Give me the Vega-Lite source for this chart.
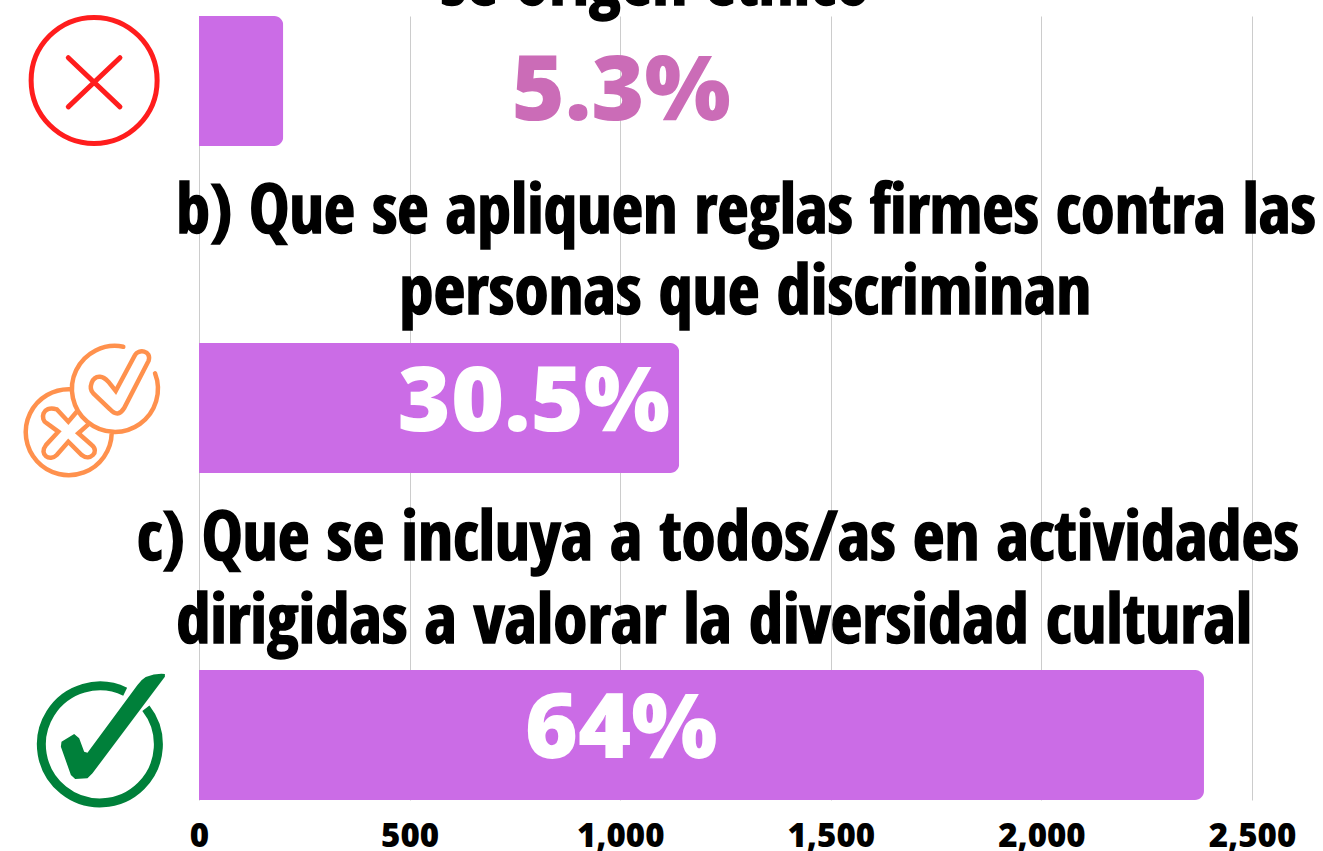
{"$schema":"https://vega.github.io/schema/vega-lite/v6.json","width":1053,"height":784,"autosize":{"type":"none"},"padding":{"left":199,"top":16,"right":71,"bottom":51},"background":"#ffffff","config":{"view":{"stroke":null}},
"datasets":{"opciones":[{"opcion":"a","total":200,"pct":"5.3%"},{"opcion":"b","total":1140,"pct":"30.5%"},{"opcion":"c","total":2386,"pct":"64%"}],
"lineas":[{"opcion":"a","linea":"a","texto":"se origen étnico"},{"opcion":"b","linea":"b1","texto":"b) Que se apliquen reglas firmes contra las"},{"opcion":"b","linea":"b2","texto":"personas que discriminan"},{"opcion":"c","linea":"c1","texto":"c) Que se incluya a todos/as en actividades"},{"opcion":"c","linea":"c2","texto":"dirigidas a valorar la diversidad cultural"}]},
"data":{"name":"opciones"},
"encoding":{"y":{"field":"opcion","type":"nominal","axis":null,"scale":{"domain":["a","b","c"],"paddingInner":0.6024,"paddingOuter":0}}},
"layer":[
{"mark":{"type":"bar","color":"#CB6CE6","cornerRadiusEnd":9},"encoding":{"x":{"field":"total","type":"quantitative","scale":{"domain":[0,2500],"nice":false},"axis":{"title":null,"values":[0,500,1000,1500,2000,2500],"format":",.0f","grid":true,"gridColor":"#cccccc","gridWidth":1,"domain":false,"ticks":false,"labelFont":"Open Sans","labelFontWeight":800,"labelFontSize":33,"labelColor":"#000000","labelPadding":20,"labelOverlap":false,"labelBound":false,"labelFlush":false}}}},
{"transform":[{"filter":"datum.opcion=='a'"}],"mark":{"type":"text","font":"Open Sans","fontWeight":800,"fontSize":91,"color":"#CB6CB7","baseline":"middle","dx":1,"dy":12},"encoding":{"x":{"datum":1000,"type":"quantitative"},"text":{"field":"pct"}}},
{"transform":[{"filter":"datum.opcion=='b'"}],"mark":{"type":"text","font":"Open Sans","fontWeight":800,"fontSize":91,"color":"#ffffff","baseline":"middle","align":"right","dx":-9,"dy":-4},"encoding":{"x":{"field":"total","type":"quantitative"},"text":{"field":"pct"}}},
{"transform":[{"filter":"datum.opcion=='c'"}],"mark":{"type":"text","font":"Open Sans","fontWeight":800,"fontSize":91,"color":"#ffffff","baseline":"middle","dx":1,"dy":-4},"encoding":{"x":{"datum":1000,"type":"quantitative"},"text":{"field":"pct"}}},
{"data":{"name":"lineas"},"transform":[{"filter":"datum.linea=='a'"}],"mark":{"type":"text","font":"Open Sans Condensed","fontWeight":800,"fontSize":69,"color":"#000000","stroke":"#000000","strokeWidth":1.5,"baseline":"alphabetic","dy":-76},"encoding":{"x":{"datum":1083,"type":"quantitative"},"text":{"field":"texto"}}},
{"data":{"name":"lineas"},"transform":[{"filter":"datum.linea=='b1'"}],"mark":{"type":"text","font":"Open Sans Condensed","fontWeight":800,"fontSize":68,"color":"#000000","stroke":"#000000","strokeWidth":1.5,"baseline":"alphabetic","dy":-175},"encoding":{"x":{"datum":1299,"type":"quantitative"},"text":{"field":"texto"}}},
{"data":{"name":"lineas"},"transform":[{"filter":"datum.linea=='b2'"}],"mark":{"type":"text","font":"Open Sans Condensed","fontWeight":800,"fontSize":69,"color":"#000000","stroke":"#000000","strokeWidth":1.5,"baseline":"alphabetic","dy":-94},"encoding":{"x":{"datum":1297,"type":"quantitative"},"text":{"field":"texto"}}},
{"data":{"name":"lineas"},"transform":[{"filter":"datum.linea=='c1'"}],"mark":{"type":"text","font":"Open Sans Condensed","fontWeight":800,"fontSize":69,"color":"#000000","stroke":"#000000","strokeWidth":1.5,"baseline":"alphabetic","dy":-175},"encoding":{"x":{"datum":1232,"type":"quantitative"},"text":{"field":"texto"}}},
{"data":{"name":"lineas"},"transform":[{"filter":"datum.linea=='c2'"}],"mark":{"type":"text","font":"Open Sans Condensed","fontWeight":800,"fontSize":69,"color":"#000000","stroke":"#000000","strokeWidth":1.5,"baseline":"alphabetic","dy":-92},"encoding":{"x":{"datum":1223,"type":"quantitative"},"text":{"field":"texto"}}},
{"transform":[{"filter":"datum.opcion=='a'"}],"mark":{"type":"point","filled":false,"size":15876,"stroke":"#FF1D1D","strokeWidth":5,"opacity":1,"strokeCap":"round","shape":"M-1,-0.01A1,1 0 1 0 1,-0.01A1,1 0 1 0 -1,-0.01ZM-0.41,-0.37L0.41,0.41M0.41,-0.37L-0.41,0.41"},"encoding":{"x":{"datum":-249,"type":"quantitative"}}},
{"transform":[{"filter":"datum.opcion=='b'"}],"mark":{"type":"point","filled":false,"size":40000,"stroke":"#FF914D","strokeWidth":4.5,"opacity":1,"strokeCap":"round","shape":"M-.203,-.187A.43,.43 0 1 0 .197,.25M.313,-.613A.43,.43 0 1 0 .63,-.347M.237,-.17L.43,-.53C.46,-.59,.60,-.58,.565,-.47L.32,.003Q.26,.10,.18,.013L.013,-.147C-.04,-.2,.0,-.32,.08,-.313Q.12,-.31,.163,-.263ZM-.153,.037L-.237,.137L-.353,.013C-.503,-.03,-.52,.12,-.453,.153L-.337,.237L-.46,.37C-.537,.47,-.42,.537,-.353,.47L-.237,.337L-.103,.47C-.02,.537,.08,.437,-.003,.37L-.137,.253L-.037,.163"},"encoding":{"x":{"datum":-254,"type":"quantitative"}}},
{"transform":[{"filter":"datum.opcion=='c'"}],"mark":{"type":"point","filled":false,"size":40000,"stroke":"#00803A","strokeWidth":9,"opacity":1,"shape":"M.26,-.433A.585,.585 0 1 0 .467,-.267"},"encoding":{"x":{"datum":-237,"type":"quantitative"}}},
{"transform":[{"filter":"datum.opcion=='c'"}],"mark":{"type":"point","filled":true,"size":40000,"fill":"#00803A","opacity":1,"shape":"M.657,-.61Q.467,-.623,.383,-.5L-.117,.177L-.15,.167L-.2,.033L-.25,-.01L-.377,.067L-.383,.117L-.283,.4L-.24,.44L-.117,.433L-.067,.383L.657,-.583Z"},"encoding":{"x":{"datum":-237,"type":"quantitative"}}}
]}
